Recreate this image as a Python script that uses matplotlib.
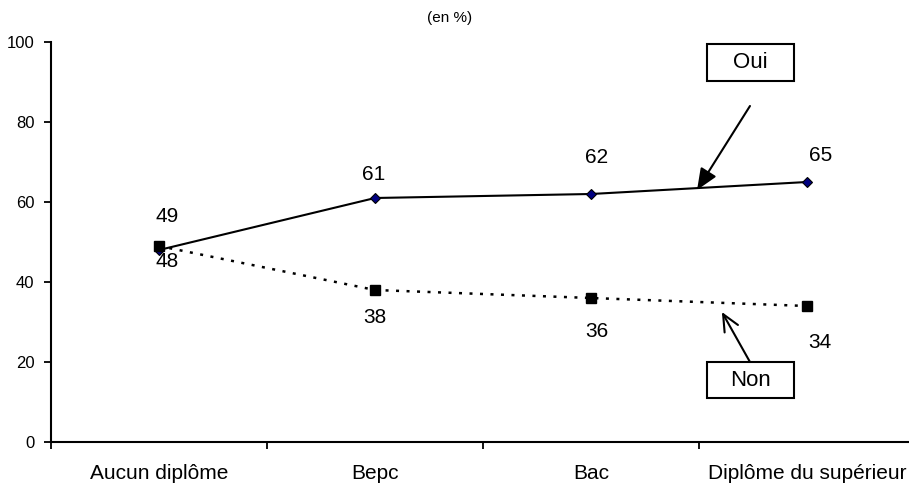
import matplotlib
matplotlib.use("Agg")
import matplotlib.pyplot as plt
from matplotlib.patches import Rectangle

plt.rcParams["font.family"] = ["Liberation Sans", "DejaVu Sans"]

categories = ["Aucun diplôme", "Bepc", "Bac", "Diplôme du supérieur"]
oui = [48, 61, 62, 65]
non = [49, 38, 36, 34]

# label offsets in points (dx, dy) for each value
oui_offsets = [(6, -8), (-1, 17), (4, 26), (10, 19)]
non_offsets = [(6, 21), (0, -20), (4, -24), (9, -26)]

fig = plt.figure(figsize=(9.09, 4.87), dpi=100)
ax = fig.add_axes([51 / 909, 45 / 487, 864 / 909, 400 / 487])

x = list(range(len(categories)))
ax.plot(x, oui, color="black", lw=1.5, marker="D", markersize=5.5,
        markerfacecolor="#000080", markeredgecolor="black", markeredgewidth=0.8,
        zorder=3)
ax.plot(x, non, color="black", lw=1.8, dashes=(1.2, 3.0), marker="s",
        markersize=6.5, markerfacecolor="black", markeredgecolor="black",
        zorder=3)

for xi, v, off in zip(x, oui, oui_offsets):
    ax.annotate(str(v), (xi, v), xytext=off, textcoords="offset points",
                ha="center", va="center", fontsize=15)
for xi, v, off in zip(x, non, non_offsets):
    ax.annotate(str(v), (xi, v), xytext=off, textcoords="offset points",
                ha="center", va="center", fontsize=15)

ax.set_xlim(-0.5, 3.5)
ax.set_ylim(0, 100)
ax.set_yticks(range(0, 101, 20))
ax.set_xticks(x)
ax.set_xticklabels(categories, fontsize=15)
ax.set_xticks([-0.5, 0.5, 1.5, 2.5, 3.5], minor=True)
ax.tick_params(axis="x", which="major", length=0, pad=16)
ax.tick_params(axis="x", which="minor", length=5, width=1.3, direction="out")
ax.tick_params(axis="y", length=5, width=1.3, pad=7, labelsize=12)

for side in ["top", "right"]:
    ax.spines[side].set_visible(False)
for side in ["left", "bottom"]:
    ax.spines[side].set_linewidth(1.5)
ax.spines["bottom"].set_zorder(4)

# callout boxes
ax.add_patch(Rectangle((2.537, 90.25), 0.403, 9.25, fill=False, lw=1.5,
                       clip_on=False))
ax.text(2.7385, 94.9, "Oui", ha="center", va="center", fontsize=16)
ax.add_patch(Rectangle((2.537, 11.0), 0.403, 9.0, fill=False, lw=1.5,
                       clip_on=False))
ax.text(2.7385, 15.5, "Non", ha="center", va="center", fontsize=16)

ax.annotate("", xy=(2.491, 63), xytext=(2.736, 84),
            arrowprops=dict(arrowstyle="-|>,head_length=1.3,head_width=0.55",
                            color="black", lw=1.5, shrinkA=0, shrinkB=0))
ax.annotate("", xy=(2.606, 32.5), xytext=(2.736, 20),
            arrowprops=dict(arrowstyle="->,head_length=1.2,head_width=0.55",
                            color="black", lw=1.5, shrinkA=0, shrinkB=0))

fig.text(450 / 909, 1 - 18 / 487, "(en %)", ha="center", va="center",
         fontsize=11)

fig.savefig("out.png", dpi=100)
